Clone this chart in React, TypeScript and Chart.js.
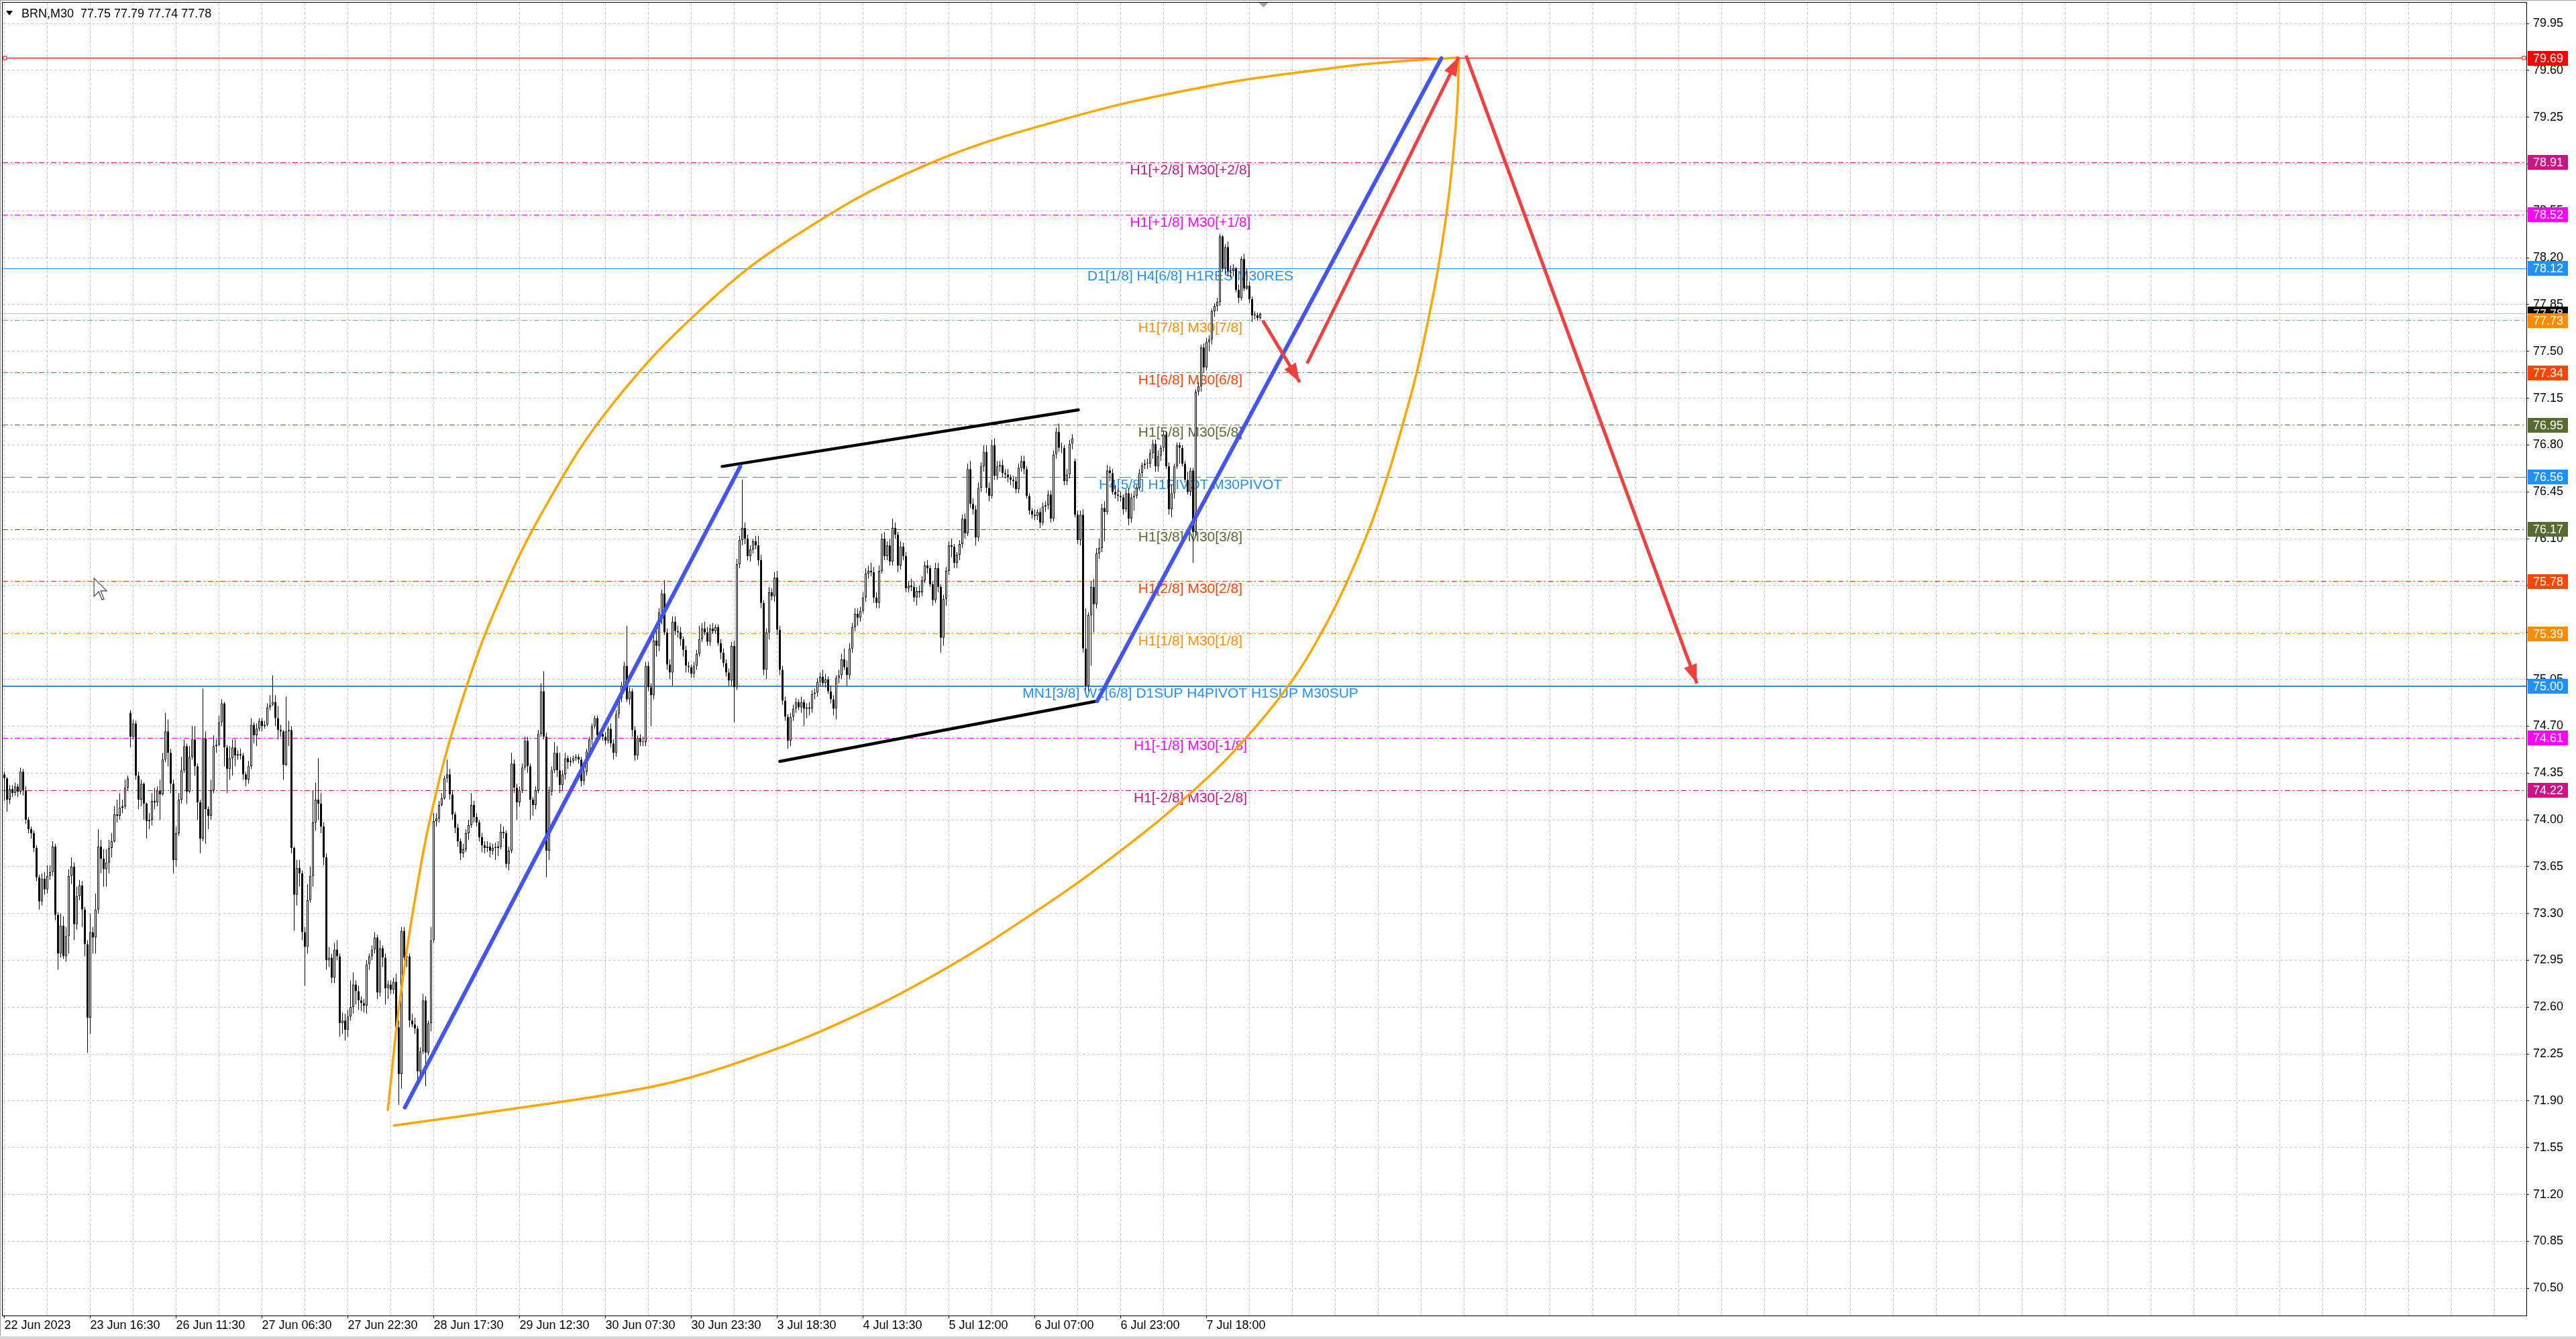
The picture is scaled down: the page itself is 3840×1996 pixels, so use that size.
import React, { useEffect, useRef } from "react";
import { Chart, registerables } from "chart.js";

Chart.register(...registerables);

const W = 3840;
const H = 1996;
const FONT = '"Liberation Sans", Arial, sans-serif';

// ---------- axes ----------
const X_MIN = -0.625;
const X_MAX = 939.875;
const Y_MIN = 70.2959;
const Y_MAX = 80.1054;

const xLabels = [
  "22 Jun 2023", "23 Jun 16:30", "26 Jun 11:30", "27 Jun 06:30", "27 Jun 22:30",
  "28 Jun 17:30", "29 Jun 12:30", "30 Jun 07:30", "30 Jun 23:30", "3 Jul 18:30",
  "4 Jul 13:30", "5 Jul 12:00", "6 Jul 07:00", "6 Jul 23:00", "7 Jul 18:00",
];
const barsPerLabel = 32;
const barsPerGrid = 16;
const gridCount = 59;

const yTicks = [
  70.5, 70.85, 71.2, 71.55, 71.9, 72.25, 72.6, 72.95, 73.3, 73.65, 74.0, 74.35, 74.7, 75.05,
  75.4, 75.75, 76.1, 76.45, 76.8, 77.15, 77.5, 77.85, 78.2, 78.55, 78.9, 79.25, 79.6, 79.95,
];

// ---------- candles (BRN, M30) ----------
const opens = [
  74.34,74.31,74.15,74.23,74.20,74.25,74.21,74.36,74.22,74.00,
  73.93,73.90,73.79,73.57,73.39,73.56,73.48,73.58,73.61,73.80,
  73.29,73.00,73.21,72.98,73.13,73.58,73.65,73.22,73.43,73.51,
  73.33,73.07,72.52,73.16,73.12,73.33,73.80,73.71,73.63,73.68,
  73.79,73.84,74.04,74.03,74.09,74.10,74.24,74.80,74.62,74.72,
  74.33,74.15,74.27,74.12,73.99,74.00,74.14,74.13,74.22,74.19,
  74.45,74.66,74.50,74.27,73.70,73.90,74.15,74.37,74.55,74.21,
  74.47,74.60,74.40,74.13,73.86,74.61,74.08,74.03,74.22,74.55,
  74.56,74.73,74.87,74.54,74.38,74.46,74.54,74.48,74.49,74.48,
  74.34,74.30,74.40,74.71,74.63,74.68,74.74,74.70,74.71,74.84,
  74.86,74.88,74.76,74.67,74.66,74.41,74.66,74.67,73.79,73.44,
  73.64,73.60,73.16,73.05,73.40,73.58,73.98,74.15,74.12,73.95,
  73.72,72.95,72.97,72.82,73.03,72.98,72.48,72.50,72.43,72.53,
  72.60,72.77,72.72,72.65,72.63,72.61,72.92,72.98,73.03,73.12,
  72.71,73.04,72.97,72.74,72.77,72.73,72.79,72.45,72.10,73.17,
  72.97,72.98,72.50,72.47,72.44,72.12,72.27,72.65,72.26,72.48,
  73.10,73.99,74.01,74.11,74.16,74.31,74.34,74.19,74.04,73.94,
  73.84,73.75,73.78,73.90,73.96,74.11,74.02,73.98,73.87,73.81,
  73.79,73.80,73.77,73.79,73.79,73.80,73.91,73.90,73.67,73.77,
  74.42,74.24,74.13,74.22,74.39,74.59,74.40,74.15,74.11,74.22,
  74.64,74.96,74.62,73.77,74.21,74.37,74.50,74.37,74.26,74.34,
  74.46,74.43,74.44,74.46,74.47,74.45,74.29,74.36,74.51,74.60,
  74.70,74.76,74.63,74.64,74.62,74.59,74.68,74.57,74.50,74.79,
  74.91,75.00,75.15,74.90,74.96,74.67,74.48,74.61,74.58,74.58,
  75.15,74.99,74.93,75.34,75.30,75.55,75.69,75.40,75.16,75.10,
  75.48,75.41,75.40,75.35,75.27,75.15,75.14,75.09,75.15,75.24,
  75.35,75.43,75.40,75.33,75.43,75.41,75.44,75.32,75.25,75.17,
  75.10,75.04,75.30,74.99,75.91,76.09,76.18,76.10,75.97,76.02,
  76.08,76.05,75.94,75.62,75.12,75.40,75.70,75.67,75.81,75.42,
  75.12,74.89,74.77,74.59,74.77,74.83,74.88,74.84,74.88,74.83,
  74.84,74.83,74.94,74.95,75.03,75.07,75.02,75.05,74.96,74.90,
  74.83,75.06,75.08,75.20,75.14,75.08,75.28,75.44,75.54,75.51,
  75.56,75.66,75.84,75.86,75.85,75.66,75.62,75.86,76.10,75.97,
  76.05,75.93,76.18,76.13,75.90,76.04,75.97,75.73,75.75,75.74,
  75.66,75.71,75.70,75.79,75.90,75.88,75.76,75.64,75.88,75.74,
  75.36,75.65,75.86,76.05,76.04,75.92,75.98,76.06,76.25,76.14,
  76.62,76.36,76.32,76.11,76.48,76.64,76.75,76.48,76.42,76.80,
  76.57,76.64,76.65,76.59,76.58,76.56,76.54,76.53,76.47,76.63,
  76.68,76.62,76.42,76.31,76.28,76.27,76.30,76.22,76.34,76.35,
  76.43,76.25,76.73,76.90,76.78,76.78,76.53,76.58,76.81,76.68,
  76.28,76.09,76.28,75.28,75.00,75.53,75.74,75.61,75.99,76.03,
  76.33,76.30,76.61,76.59,76.45,76.43,76.42,76.41,76.32,76.44,
  76.25,76.41,76.42,76.48,76.59,76.65,76.66,76.66,76.74,76.81,
  76.64,76.72,76.78,76.88,76.64,76.32,76.44,76.64,76.80,76.78,
  76.66,76.54,76.45,76.61,76.15,77.20,77.24,77.53,77.38,77.57,
  77.59,77.80,77.84,77.87,78.36,78.12,78.28,78.10,78.10,78.12,
  77.96,77.90,78.19,77.97,77.99,77.89,77.77,77.77,77.75,
];
const highs = [
  74.36,74.32,74.26,74.26,74.28,74.27,74.39,74.38,74.25,74.02,
  73.95,73.92,73.81,73.59,73.60,73.61,73.66,73.66,73.84,73.82,
  73.31,73.30,73.28,73.20,73.63,73.72,73.68,73.50,73.55,73.54,
  73.35,73.10,73.30,73.20,73.45,73.93,73.85,73.78,73.78,73.85,
  73.90,74.10,74.15,74.20,74.15,74.30,74.33,74.82,74.75,74.74,
  74.36,74.30,74.28,74.13,74.05,74.20,74.24,74.25,74.30,74.50,
  74.80,74.75,74.53,74.30,73.95,74.20,74.47,74.60,74.57,74.55,
  74.70,74.70,74.42,74.15,74.98,74.66,74.10,74.30,74.63,74.60,
  74.78,74.90,74.88,74.56,74.55,74.60,74.60,74.52,74.53,74.50,
  74.36,74.44,74.76,74.73,74.72,74.76,74.76,74.74,74.87,74.93,
  75.08,74.93,74.85,74.71,74.67,74.92,74.74,74.70,73.80,73.70,
  73.70,73.62,73.20,73.52,73.65,74.22,74.28,74.46,74.20,73.98,
  73.75,73.05,73.00,73.08,73.10,73.00,72.56,72.55,72.58,72.80,
  72.86,72.80,72.76,72.68,72.66,72.95,73.00,73.06,73.16,73.14,
  73.10,73.06,73.00,72.80,72.80,72.82,72.85,72.50,73.20,73.20,
  73.05,73.00,72.55,72.52,72.46,72.30,72.70,72.68,72.50,73.20,
  74.05,74.05,74.14,74.20,74.33,74.45,74.38,74.22,74.06,73.97,
  73.86,73.82,73.93,74.00,74.20,74.14,74.05,74.00,73.90,73.84,
  73.84,73.83,73.82,73.83,73.84,73.97,73.95,73.92,73.80,74.50,
  74.45,74.27,74.25,74.42,74.62,74.62,74.42,74.17,74.25,74.67,
  75.02,75.11,74.65,74.25,74.40,74.58,74.55,74.50,74.37,74.50,
  74.48,74.47,74.48,74.49,74.49,74.47,74.39,74.53,74.62,74.72,
  74.78,74.78,74.66,74.66,74.65,74.70,74.72,74.60,74.82,74.93,
  75.03,75.18,75.45,74.99,74.98,74.70,74.63,74.64,74.62,75.18,
  75.18,75.02,75.38,75.42,75.58,75.72,75.79,75.43,75.20,75.52,
  75.52,75.45,75.44,75.37,75.30,75.18,75.16,75.18,75.27,75.45,
  75.47,75.48,75.44,75.46,75.47,75.46,75.46,75.35,75.28,75.20,
  75.13,75.33,75.34,75.95,76.12,76.54,76.22,76.13,76.05,76.10,
  76.12,76.12,75.98,75.64,75.43,75.74,75.73,75.85,75.86,75.45,
  75.15,74.92,74.79,74.80,74.86,74.91,74.90,74.92,74.90,74.87,
  74.88,74.97,74.98,75.06,75.10,75.12,75.09,75.07,75.00,74.93,
  75.08,75.12,75.24,75.28,75.19,75.32,75.47,75.58,75.58,75.59,
  75.70,75.88,75.90,75.92,75.89,75.70,75.90,76.14,76.15,76.08,
  76.10,76.25,76.22,76.15,76.08,76.07,76.00,75.78,75.80,75.78,
  75.74,75.75,75.82,75.93,75.94,75.90,75.78,75.92,75.92,75.76,
  75.68,75.89,76.08,76.10,76.06,76.00,76.09,76.28,76.29,76.66,
  76.68,76.40,76.35,76.52,76.67,76.80,76.80,76.52,76.84,76.85,
  76.68,76.68,76.69,76.62,76.62,76.58,76.57,76.56,76.66,76.72,
  76.72,76.64,76.44,76.33,76.32,76.32,76.33,76.37,76.38,76.46,
  76.46,76.76,76.93,76.96,76.82,76.80,76.62,76.84,76.88,76.70,
  76.31,76.31,76.32,75.58,75.55,75.78,75.80,76.03,76.10,76.36,
  76.38,76.65,76.64,76.62,76.50,76.47,76.45,76.43,76.47,76.48,
  76.44,76.46,76.50,76.62,76.67,76.69,76.70,76.77,76.84,76.84,
  76.76,76.80,76.91,76.90,76.67,76.50,76.66,76.82,76.82,76.80,
  76.68,76.60,76.63,76.63,77.22,77.27,77.55,77.56,77.60,77.62,
  77.82,77.86,77.90,78.38,78.37,78.30,78.32,78.14,78.15,78.13,
  78.00,78.21,78.23,78.12,78.02,77.91,77.80,77.79,77.79,
];
const lows = [
  74.14,74.06,74.12,74.17,74.18,74.17,74.19,74.18,73.97,73.90,
  73.86,73.76,73.54,73.33,73.36,73.44,73.45,73.55,73.58,73.25,
  72.88,72.97,72.96,72.94,73.00,73.52,73.10,73.18,73.40,73.20,
  72.98,72.26,72.40,73.00,73.00,73.30,73.60,73.50,73.50,73.60,
  73.72,73.83,73.98,74.00,74.05,74.08,74.22,74.54,74.60,74.30,
  74.08,74.10,74.00,73.86,73.93,73.96,74.08,74.10,74.00,74.18,
  74.43,74.40,74.20,73.60,73.65,73.88,74.12,74.35,74.12,74.20,
  74.45,74.33,74.00,73.75,73.84,73.82,73.93,74.00,74.20,74.50,
  74.55,74.70,74.40,74.20,74.30,74.33,74.40,74.45,74.45,74.30,
  74.25,74.27,74.38,74.57,74.55,74.66,74.66,74.68,74.70,74.82,
  74.85,74.70,74.60,74.62,74.30,74.40,74.55,73.75,73.17,73.36,
  73.50,73.10,72.76,73.00,73.38,73.50,73.92,74.00,73.90,73.66,
  72.88,72.90,72.78,72.78,72.95,72.38,72.40,72.35,72.38,72.50,
  72.55,72.62,72.58,72.57,72.56,72.55,72.88,72.95,73.00,72.66,
  72.68,72.90,72.62,72.66,72.70,72.70,72.40,71.87,71.99,72.95,
  72.90,72.45,72.45,72.40,72.01,72.05,72.25,72.01,72.24,72.42,
  73.08,73.95,73.98,74.10,74.15,74.28,74.15,74.00,73.90,73.80,
  73.70,73.72,73.76,73.85,73.94,73.98,73.95,73.84,73.76,73.75,
  73.76,73.72,73.74,73.70,73.73,73.78,73.86,73.64,73.62,73.75,
  74.20,74.00,74.10,74.20,74.37,74.35,74.00,74.03,74.08,74.20,
  74.62,74.60,73.57,73.70,74.18,74.35,74.32,74.20,74.22,74.30,
  74.38,74.40,74.42,74.44,74.42,74.25,74.26,74.33,74.48,74.56,
  74.68,74.60,74.60,74.59,74.56,74.57,74.54,74.45,74.47,74.76,
  74.88,74.98,74.88,74.86,74.62,74.44,74.45,74.55,74.55,74.55,
  74.96,74.70,74.90,75.22,75.26,75.46,75.38,75.12,75.05,75.00,
  75.38,75.36,75.30,75.22,75.10,75.10,75.06,75.06,75.12,75.22,
  75.33,75.38,75.30,75.30,75.39,75.39,75.30,75.20,75.14,75.07,
  75.00,75.00,74.73,74.97,75.88,76.05,76.06,75.94,75.93,75.99,
  76.02,75.90,75.58,75.08,75.05,75.35,75.64,75.63,75.38,75.08,
  74.86,74.74,74.53,74.55,74.74,74.80,74.82,74.80,74.70,74.76,
  74.78,74.80,74.90,74.92,75.00,75.00,74.99,74.94,74.87,74.78,
  74.75,75.02,75.05,75.12,75.00,75.05,75.25,75.41,75.45,75.48,
  75.54,75.63,75.80,75.82,75.62,75.58,75.58,75.84,75.94,75.94,
  75.90,75.90,76.10,75.85,75.87,75.94,75.70,75.70,75.71,75.63,
  75.60,75.66,75.67,75.77,75.84,75.74,75.60,75.62,75.70,75.25,
  75.30,75.60,75.83,75.96,75.88,75.88,75.94,76.03,76.10,76.12,
  76.33,76.28,76.05,76.08,76.45,76.60,76.44,76.38,76.40,76.54,
  76.54,76.60,76.56,76.55,76.52,76.50,76.48,76.44,76.44,76.60,
  76.58,76.40,76.28,76.25,76.24,76.24,76.18,76.20,76.30,76.32,
  76.22,76.23,76.70,76.75,76.74,76.50,76.50,76.55,76.77,76.26,
  76.06,76.05,75.25,74.97,74.96,75.15,75.40,75.58,75.95,76.00,
  76.08,76.28,76.53,76.43,76.40,76.38,76.38,76.28,76.30,76.20,
  76.22,76.31,76.40,76.46,76.56,76.62,76.62,76.63,76.70,76.60,
  76.60,76.68,76.75,76.62,76.28,76.26,76.40,76.62,76.66,76.64,
  76.52,76.43,76.42,75.92,76.12,77.17,77.20,77.34,77.36,77.50,
  77.55,77.76,77.80,77.84,78.10,78.08,78.06,78.05,78.06,77.94,
  77.86,77.88,77.95,77.96,77.86,77.72,77.74,77.73,77.74,
];
const closes = [
  74.31,74.15,74.23,74.20,74.25,74.21,74.36,74.22,74.00,73.93,
  73.90,73.79,73.57,73.39,73.56,73.48,73.58,73.61,73.80,73.29,
  73.00,73.21,72.98,73.13,73.58,73.65,73.22,73.43,73.51,73.33,
  73.07,72.52,73.16,73.12,73.33,73.80,73.71,73.63,73.68,73.79,
  73.84,74.04,74.03,74.09,74.10,74.24,74.31,74.62,74.72,74.33,
  74.15,74.27,74.12,73.99,74.00,74.14,74.13,74.22,74.19,74.45,
  74.66,74.50,74.27,73.70,73.90,74.15,74.37,74.55,74.21,74.47,
  74.60,74.40,74.13,73.86,74.61,74.08,74.03,74.22,74.55,74.56,
  74.73,74.87,74.54,74.38,74.46,74.54,74.48,74.49,74.48,74.34,
  74.30,74.40,74.71,74.63,74.68,74.74,74.70,74.71,74.84,74.86,
  74.88,74.76,74.67,74.66,74.41,74.66,74.67,73.79,73.44,73.64,
  73.60,73.16,73.05,73.40,73.58,73.98,74.15,74.12,73.95,73.72,
  72.95,72.97,72.82,73.03,72.98,72.48,72.50,72.43,72.53,72.60,
  72.77,72.72,72.65,72.63,72.61,72.92,72.98,73.03,73.12,72.71,
  73.04,72.97,72.74,72.77,72.73,72.79,72.45,72.10,73.17,72.97,
  72.98,72.50,72.47,72.44,72.12,72.27,72.65,72.26,72.48,73.10,
  73.99,74.01,74.11,74.16,74.31,74.34,74.19,74.04,73.94,73.84,
  73.75,73.78,73.90,73.96,74.11,74.02,73.98,73.87,73.81,73.79,
  73.80,73.77,73.79,73.79,73.80,73.91,73.90,73.67,73.77,74.42,
  74.24,74.13,74.22,74.39,74.59,74.40,74.15,74.11,74.22,74.64,
  74.96,74.62,73.77,74.21,74.37,74.50,74.37,74.26,74.34,74.46,
  74.43,74.44,74.46,74.47,74.45,74.29,74.36,74.51,74.60,74.70,
  74.76,74.63,74.64,74.62,74.59,74.68,74.57,74.50,74.79,74.91,
  75.00,75.15,74.90,74.96,74.67,74.48,74.61,74.58,74.58,75.15,
  74.99,74.93,75.34,75.30,75.55,75.69,75.40,75.16,75.10,75.48,
  75.41,75.40,75.35,75.27,75.15,75.14,75.09,75.15,75.24,75.35,
  75.43,75.40,75.33,75.43,75.41,75.44,75.32,75.25,75.17,75.10,
  75.04,75.30,74.99,75.91,76.09,76.18,76.10,75.97,76.02,76.08,
  76.05,75.94,75.62,75.12,75.40,75.70,75.67,75.81,75.42,75.12,
  74.89,74.77,74.59,74.77,74.83,74.88,74.84,74.88,74.83,74.84,
  74.83,74.94,74.95,75.03,75.07,75.02,75.05,74.96,74.90,74.83,
  75.06,75.08,75.20,75.14,75.08,75.28,75.44,75.54,75.51,75.56,
  75.66,75.84,75.86,75.85,75.66,75.62,75.86,76.10,75.97,76.05,
  75.93,76.18,76.13,75.90,76.04,75.97,75.73,75.75,75.74,75.66,
  75.71,75.70,75.79,75.90,75.88,75.76,75.64,75.88,75.74,75.36,
  75.65,75.86,76.05,76.04,75.92,75.98,76.06,76.25,76.14,76.62,
  76.36,76.32,76.11,76.48,76.64,76.75,76.48,76.42,76.80,76.57,
  76.64,76.65,76.59,76.58,76.56,76.54,76.53,76.47,76.63,76.68,
  76.62,76.42,76.31,76.28,76.27,76.30,76.22,76.34,76.35,76.43,
  76.25,76.73,76.90,76.78,76.78,76.53,76.58,76.81,76.85,76.28,
  76.09,76.28,75.28,75.00,75.53,75.74,75.61,75.99,76.03,76.33,
  76.30,76.61,76.59,76.45,76.43,76.42,76.41,76.32,76.44,76.25,
  76.41,76.42,76.48,76.59,76.65,76.66,76.66,76.74,76.81,76.64,
  76.72,76.78,76.88,76.64,76.32,76.44,76.64,76.80,76.78,76.66,
  76.54,76.45,76.61,76.15,77.20,77.24,77.53,77.38,77.57,77.59,
  77.80,77.84,77.87,78.36,78.12,78.28,78.10,78.10,78.12,77.96,
  77.90,78.19,77.97,77.99,77.89,77.77,77.77,77.75,77.78,
];

// ---------- Murrey-style horizontal levels ----------
const levelPrices = [79.69, 78.91, 78.52, 78.12, 77.73, 77.34, 76.95, 76.56, 76.17, 75.78, 75.39, 75.0, 74.61, 74.22];
const levelColors = ["#FF0000", "#C71585", "#FF00FF", "#1E90FF", "#FF8C00", "#FF4500", "#556B2F", "#1E90FF", "#556B2F", "#FF4500", "#FF8C00", "#1E90FF", "#FF00FF", "#C71585"];
const levelStyles = ["solid", "dashdot", "dashdot", "solid", "dashdot", "dashdot", "dashdot", "dash", "dashdot", "dashdot", "dashdot", "solid", "dashdot", "dashdot"];
const levelWidths = [1, 1, 1, 1, 1, 1, 1, 1, 1, 1, 1, 2, 1, 1];
const levelTexts = [
  "", "H1[+2/8] M30[+2/8]", "H1[+1/8] M30[+1/8]", "D1[1/8] H4[6/8] H1RES M30RES",
  "H1[7/8] M30[7/8]", "H1[6/8] M30[6/8]", "H1[5/8] M30[5/8]", "H4[5/8] H1PIVOT M30PIVOT",
  "H1[3/8] M30[3/8]", "H1[2/8] M30[2/8]", "H1[1/8] M30[1/8]", "MN1[3/8] W1[6/8] D1SUP H4PIVOT H1SUP M30SUP",
  "H1[-1/8] M30[-1/8]", "H1[-2/8] M30[-2/8]",
];
const levelTextBar = 442;
const currentPrice = 77.78;
const headerText = "BRN,M30  77.75 77.79 77.74 77.78";

// ---------- drawn objects ----------
const trendStartBars = [149.25, 407.25, 267.5, 289.0];
const trendStartPrices = [71.85, 74.887, 76.64, 74.436];
const trendEndBars = [274.25, 535.5, 400.25, 407.25];
const trendEndPrices = [76.64, 79.69, 77.063, 74.887];
const trendColors = ["#4355EE", "#4355EE", "#000000", "#000000"];
const trendWidths = [6, 6, 4.5, 4.5];

const arrowStartBars = [469.0, 485.5, 544.75];
const arrowStartPrices = [77.73, 77.41, 79.71];
const arrowEndBars = [482.75, 542.0, 630.75];
const arrowEndPrices = [77.27, 79.70, 75.02];
const arrowColor = "#EF4040";

const upperArcBars = [142.875, 147.125, 152.625, 159.875, 170.125, 183.875, 202.375, 227.125, 262.625, 295.375, 341.125, 392.875, 446.625, 497.625, 520.875, 541.875];
const upperArcPrices = [71.825, 72.607, 73.359, 74.111, 74.863, 75.614, 76.366, 77.118, 77.87, 78.371, 78.872, 79.223, 79.474, 79.624, 79.669, 79.694];
const lowerArcBars = [144.875, 199.625, 228.875, 250.125, 274.125, 308.375, 345.875, 383.875, 417.125, 444.125, 461.625, 480.375, 490.875, 499.625, 508.625, 515.375, 521.125, 526.375, 530.625, 534.375, 537.375, 539.625, 541.375, 542.125];
const lowerArcPrices = [71.714, 71.87, 71.96, 72.045, 72.191, 72.456, 72.832, 73.308, 73.785, 74.236, 74.587, 75.053, 75.399, 75.745, 76.171, 76.562, 76.953, 77.343, 77.734, 78.125, 78.516, 78.902, 79.323, 79.684];
const arcColor = "#FFA500";

const shiftMarkerBar = 469.25;
const cursorBar = 33.4;
const cursorPrice = 75.805;

function dashFor(style: string): number[] {
  if (style === "dashdot") return [8, 4, 2, 4];
  if (style === "dash") return [18, 8];
  return [];
}

function snap(py: number, width: number): number {
  return width % 2 === 1 ? Math.round(py - 0.5) + 0.5 : Math.round(py);
}

const overlayPlugin = {
  id: "mtOverlay",
  beforeDatasetsDraw(chart: any) {
    const { ctx, chartArea: ca } = chart;
    const xs = chart.scales.x;
    const ys = chart.scales.y;
    ctx.save();
    ctx.beginPath();
    ctx.rect(ca.left, ca.top, ca.right - ca.left, ca.bottom - ca.top);
    ctx.clip();

    const x0 = xs.getPixelForValue(X_MIN);
    const x1 = xs.getPixelForValue(X_MAX);
    const hline = (p: number, color: string, width: number, dash: number[]) => {
      const yy = snap(ys.getPixelForValue(p), width);
      ctx.beginPath();
      ctx.setLineDash(dash);
      ctx.strokeStyle = color;
      ctx.lineWidth = width;
      ctx.moveTo(x0, yy);
      ctx.lineTo(x1, yy);
      ctx.stroke();
    };
    hline(currentPrice, "#C0C0C0", 1, []);
    levelPrices.forEach((p, i) => hline(p, levelColors[i], levelWidths[i], dashFor(levelStyles[i])));
    ctx.setLineDash([]);

    ctx.font = `21px ${FONT}`;
    ctx.textAlign = "center";
    ctx.textBaseline = "alphabetic";
    const tx = xs.getPixelForValue(levelTextBar);
    levelPrices.forEach((p, i) => {
      if (!levelTexts[i]) return;
      ctx.fillStyle = levelColors[i];
      ctx.fillText(levelTexts[i], tx, ys.getPixelForValue(p) + 17.5);
    });
    ctx.restore();
  },
  afterDatasetsDraw(chart: any) {
    const { ctx, chartArea: ca } = chart;
    const xs = chart.scales.x;
    const ys = chart.scales.y;
    ctx.save();

    // arrow heads
    chart.data.datasets.forEach((ds: any, i: number) => {
      if (!ds.arrowHead) return;
      const pts = chart.getDatasetMeta(i).data;
      const a = pts[0];
      const b = pts[pts.length - 1];
      const ang = Math.atan2(b.y - a.y, b.x - a.x);
      const L = 28;
      const hw = 10;
      const bx = b.x - L * Math.cos(ang);
      const by = b.y - L * Math.sin(ang);
      ctx.beginPath();
      ctx.moveTo(b.x, b.y);
      ctx.lineTo(bx - hw * Math.sin(ang), by + hw * Math.cos(ang));
      ctx.lineTo(bx + hw * Math.sin(ang), by - hw * Math.cos(ang));
      ctx.closePath();
      ctx.fillStyle = ds.borderColor;
      ctx.fill();
    });

    // selection anchors on the red line
    const ry = snap(ys.getPixelForValue(levelPrices[0]), 1);
    ctx.strokeStyle = "#FF0000";
    ctx.fillStyle = "#FFFFFF";
    ctx.lineWidth = 1;
    [ca.left + 3, ca.right - 4].forEach((ax: number) => {
      const axr = Math.round(ax) + 0.5;
      ctx.fillRect(axr - 2.5, ry - 2.5, 5, 5);
      ctx.strokeRect(axr - 2.5, ry - 2.5, 5, 5);
    });

    // shift marker at top
    const mx = xs.getPixelForValue(shiftMarkerBar);
    ctx.fillStyle = "#A0A0A0";
    ctx.beginPath();
    ctx.moveTo(mx - 7, ca.top);
    ctx.lineTo(mx + 7, ca.top);
    ctx.lineTo(mx, ca.top + 7);
    ctx.closePath();
    ctx.fill();

    // mouse cursor
    const cx = xs.getPixelForValue(cursorBar);
    const cy = ys.getPixelForValue(cursorPrice);
    const cur = [[0, 0], [0, 27], [7, 20], [12, 32], [15, 31], [10, 19], [19, 19]];
    ctx.beginPath();
    cur.forEach(([px, py], k) => (k ? ctx.lineTo(cx + px, cy + py) : ctx.moveTo(cx + px, cy + py)));
    ctx.closePath();
    ctx.fillStyle = "#FFFFFF";
    ctx.fill();
    ctx.strokeStyle = "#444";
    ctx.lineWidth = 1.2;
    ctx.stroke();

    // frame
    ctx.strokeStyle = "#000";
    ctx.lineWidth = 1;
    ctx.strokeRect(ca.left - 0.5, ca.top - 0.5, ca.right - ca.left + 1, ca.bottom - ca.top + 1);

    // window edges
    ctx.fillStyle = "#A0A0A0";
    ctx.fillRect(0, 0, W, 1);
    ctx.fillRect(0, 0, 1, H);
    ctx.fillStyle = "#D8D8D8";
    ctx.fillRect(0, H - 4, W, 4);

    // price labels on the right axis
    ctx.font = `18px ${FONT}`;
    ctx.textAlign = "left";
    ctx.textBaseline = "middle";
    const drawBox = (p: number, color: string) => {
      const yy = Math.round(ys.getPixelForValue(p));
      ctx.fillStyle = color;
      ctx.fillRect(ca.right + 2, yy - 11, 60, 22);
      ctx.fillStyle = "#FFFFFF";
      ctx.fillText(p.toFixed(2), ca.right + 10, yy + 1);
    };
    drawBox(currentPrice, "#000000");
    levelPrices.forEach((p, i) => drawBox(p, levelColors[i]));

    // header
    ctx.fillStyle = "#000";
    ctx.beginPath();
    ctx.moveTo(9, 16);
    ctx.lineTo(19, 16);
    ctx.lineTo(14, 23);
    ctx.closePath();
    ctx.fill();
    ctx.textBaseline = "alphabetic";
    ctx.fillText(headerText, 32, 26);

    ctx.restore();
  },
};

export default function App() {
  const ref = useRef<HTMLCanvasElement | null>(null);

  useEffect(() => {
    if (!ref.current) return;
    const n = Math.min(opens.length, highs.length, lows.length, closes.length);
    const idx = Array.from({ length: n }, (_, i) => i);

    const datasets: any[] = [];
    datasets.push({
      type: "bar",
      data: idx.map((i) => ({ x: i, y: [lows[i], highs[i]] })),
      backgroundColor: "#000000", borderWidth: 0, barThickness: 1, grouped: false,
      inflateAmount: 0, order: 12,
    });
    datasets.push({
      type: "bar",
      data: idx.map((i) => ({ x: i, y: [opens[i], closes[i]] })),
      backgroundColor: idx.map((i) => (closes[i] >= opens[i] ? "#FFFFFF" : "#000000")),
      borderColor: "#000000", borderWidth: 1, borderSkipped: false, barThickness: 3,
      minBarLength: 1, grouped: false, inflateAmount: 0, order: 11,
    });
    datasets.push({
      type: "line",
      data: upperArcBars.map((b, i) => ({ x: b, y: upperArcPrices[i] })),
      borderColor: arcColor, borderWidth: 3.5, pointRadius: 0, tension: 0.4, order: 4,
    });
    datasets.push({
      type: "line",
      data: lowerArcBars.map((b, i) => ({ x: b, y: lowerArcPrices[i] })),
      borderColor: arcColor, borderWidth: 3.5, pointRadius: 0, tension: 0.4, order: 4,
    });
    trendStartBars.forEach((b, i) => {
      datasets.push({
        type: "line",
        data: [{ x: b, y: trendStartPrices[i] }, { x: trendEndBars[i], y: trendEndPrices[i] }],
        borderColor: trendColors[i], borderWidth: trendWidths[i], pointRadius: 0, tension: 0,
        borderCapStyle: "round", order: 3,
      });
    });
    arrowStartBars.forEach((b, i) => {
      datasets.push({
        type: "line",
        data: [{ x: b, y: arrowStartPrices[i] }, { x: arrowEndBars[i], y: arrowEndPrices[i] }],
        borderColor: arrowColor, borderWidth: 5, pointRadius: 0, tension: 0,
        borderCapStyle: "butt", order: 2, arrowHead: true,
      });
    });

    const chart = new Chart(ref.current, {
      type: "bar",
      data: { datasets },
      options: {
        animation: false,
        responsive: false,
        maintainAspectRatio: false,
        events: [],
        layout: { padding: { left: 4, top: 4, right: 0, bottom: 0 } },
        elements: { line: { capBezierPoints: false } },
        plugins: { legend: { display: false }, tooltip: { enabled: false } },
        scales: {
          x: {
            type: "linear",
            min: X_MIN,
            max: X_MAX,
            offset: false,
            afterBuildTicks: (s: any) => {
              s.ticks = Array.from({ length: gridCount }, (_, k) => ({ value: k * barsPerGrid }));
            },
            afterFit: (s: any) => {
              s.height = 35;
              s.paddingLeft = 0;
              s.paddingRight = 0;
            },
            ticks: {
              autoSkip: false,
              maxRotation: 0,
              minRotation: 0,
              align: "start",
              padding: 0,
              color: "#000",
              font: { family: FONT, size: 18 },
              callback: (v: any) => {
                const k = Number(v) / barsPerLabel;
                return Number.isInteger(k) && k < xLabels.length ? xLabels[k] : "";
              },
            },
            grid: {
              color: "#C8C8C8",
              lineWidth: 1,
              offset: false,
              drawTicks: true,
              tickLength: 4,
              tickColor: (c: any) => {
                const v = c.tick ? c.tick.value : -1;
                return v % barsPerLabel === 0 && v / barsPerLabel < xLabels.length ? "#000" : "rgba(0,0,0,0)";
              },
            },
            border: { display: false, dash: [4, 3] },
          },
          y: {
            type: "linear",
            position: "right",
            min: Y_MIN,
            max: Y_MAX,
            afterBuildTicks: (s: any) => {
              s.ticks = yTicks.map((v) => ({ value: v }));
            },
            afterFit: (s: any) => {
              s.width = 74;
              s.paddingTop = 0;
              s.paddingBottom = 0;
            },
            ticks: {
              autoSkip: false,
              padding: 6,
              color: "#000",
              font: { family: FONT, size: 18 },
              callback: (v: any) => Number(v).toFixed(2),
            },
            grid: { color: "#C8C8C8", lineWidth: 1, drawTicks: true, tickLength: 4, tickColor: "#000" },
            border: { display: false, dash: [4, 3] },
          },
        },
      } as any,
      plugins: [overlayPlugin],
    } as any);

    return () => chart.destroy();
  }, []);

  return (
    <div style={{ position: "fixed", left: 0, top: 0, width: W, height: H, background: "#FFFFFF" }}>
      <canvas ref={ref} width={W} height={H} style={{ width: W, height: H, display: "block" }} />
    </div>
  );
}
